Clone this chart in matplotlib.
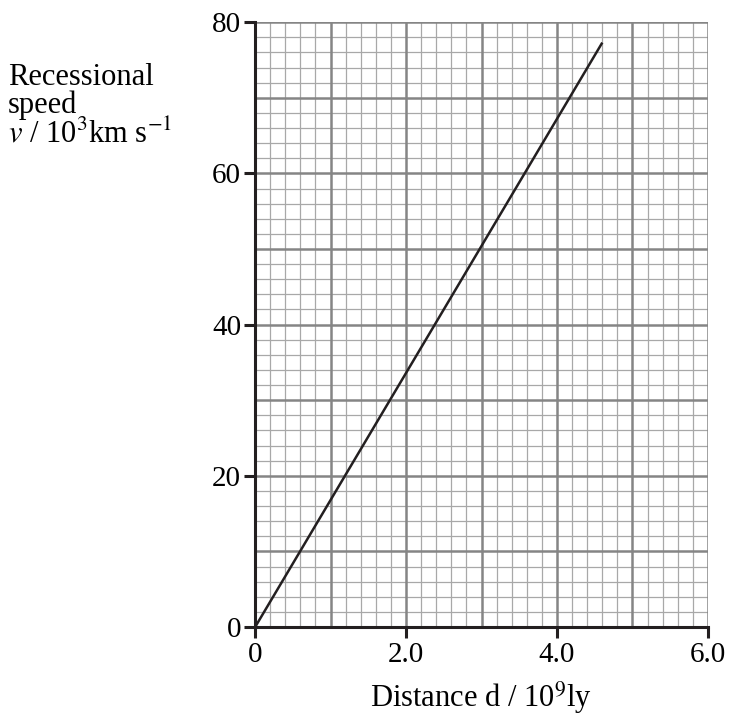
import numpy as np
import matplotlib.pyplot as plt

# dados
dist = [0.0, 4.6]        # 10^9 ly
speed = [0.0, 77.3]      # 10^3 km/s
x_ticks = [0, 2, 4, 6]
x_tick_labels = ["0", "2.0", "4.0", "6.0"]
y_ticks = [0, 20, 40, 60, 80]
y_tick_labels = ["0", "20", "40", "60", "80"]

plt.rcParams['font.family'] = ['Liberation Serif', 'DejaVu Serif']
plt.rcParams['mathtext.fontset'] = 'stix'

fig = plt.figure(figsize=(7.31, 7.15), dpi=100)
ax = fig.add_axes([0.349, 0.123, 0.6195, 0.846])
ax.set_xlim(0, 6)
ax.set_ylim(0, 80)

# papel milimetrado
minor_col = '#a8a8a8'
major_col = '#858585'
for xv in np.arange(0, 6.01, 0.2):
    if abs(xv - round(xv)) > 1e-6:
        ax.axvline(xv, color=minor_col, lw=0.9, zorder=1)
for yv in np.arange(0, 80.1, 2):
    if yv % 10 != 0:
        ax.axhline(yv, color=minor_col, lw=0.9, zorder=1)
for xv in range(1, 7):
    ax.axvline(xv, color=major_col, lw=1.8, zorder=2)
for yv in range(10, 81, 10):
    ax.axhline(yv, color=major_col, lw=1.8, zorder=2)

ax.plot(dist, speed, color='#231f20', lw=1.8, zorder=4, solid_capstyle='butt')

for s in ['top', 'right']:
    ax.spines[s].set_visible(False)
for s in ['left', 'bottom']:
    ax.spines[s].set_color('#231f20')
    ax.spines[s].set_linewidth(2.2)
    ax.spines[s].set_zorder(5)

ax.set_xticks(x_ticks)
ax.set_xticklabels(x_tick_labels)
ax.set_yticks(y_ticks)
ax.set_yticklabels(y_tick_labels)
ax.tick_params(axis='both', direction='out', length=8, width=2.2, color='#231f20',
               labelsize=21, pad=2)
ax.tick_params(axis='x', pad=3)

fig.text(0.011, 0.881, "Recessional", fontsize=22, ha='left', va='baseline')
fig.text(0.011, 0.842, "speed", fontsize=22, ha='left', va='baseline')
fig.text(0.011, 0.801, r"$v$ / 10$^3$km s$^{-1}$", fontsize=22, ha='left', va='baseline')
fig.text(0.658, 0.011, r"Distance d / 10$^9$ly", fontsize=22, ha='center', va='baseline')

fig.savefig("out.png", dpi=100)
plt.close(fig)
